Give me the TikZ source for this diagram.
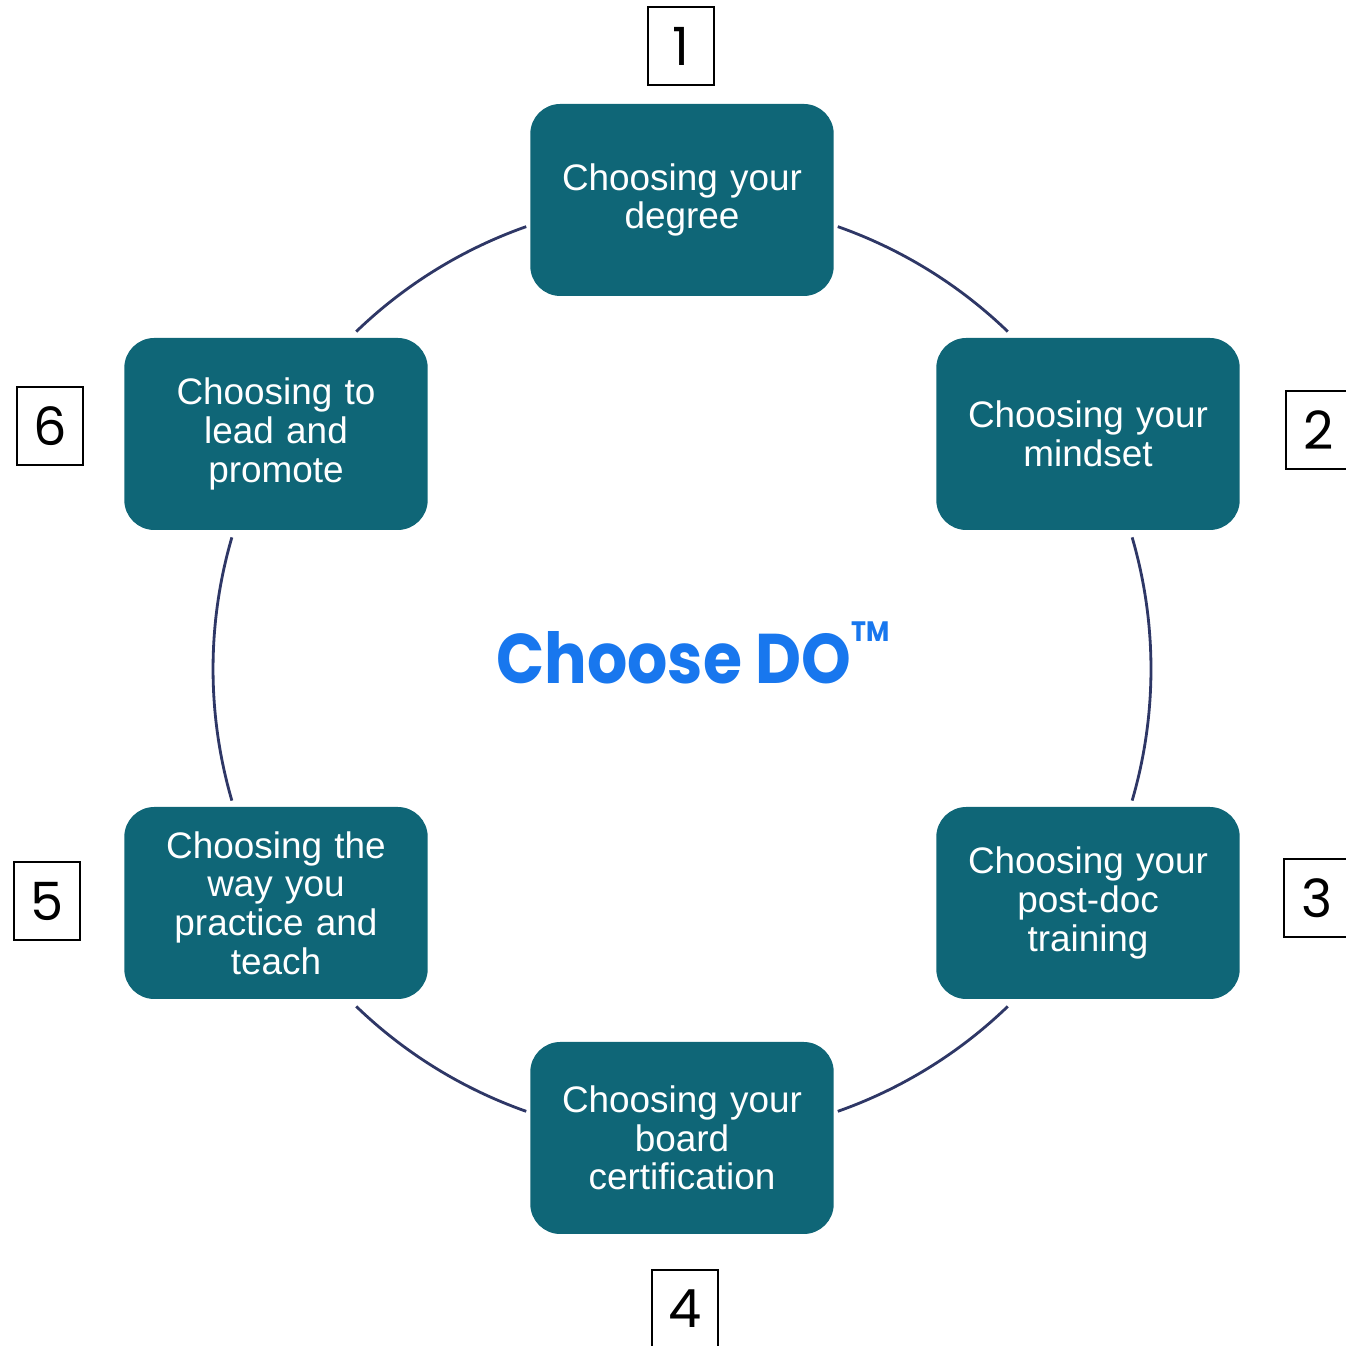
\documentclass[tikz,border=0pt]{standalone}
\usepackage{fontspec}
\setmainfont{Liberation Sans}
\newfontfamily\gothic{Poppins}
\newfontfamily\gothicnarrow[FakeStretch=0.9]{Poppins}
\usetikzlibrary{positioning,calc}

\definecolor{stepteal}{HTML}{0F6677}
\definecolor{ringnavy}{HTML}{2E3766}
\definecolor{titleblue}{HTML}{1877EE}

\begin{document}
\begin{tikzpicture}[
    stage/.style = {rectangle, rounded corners=0.3cm, fill=stepteal, minimum width=3cm, minimum height=1.92cm, text width=2.8cm, align=center, text=white, font=\fontsize{10.5}{11}\selectfont},
    numbox/.style = {rectangle, draw, line width=0.6pt, minimum width=0.66cm, minimum height=0.78cm, inner sep=0pt, font=\gothic\fontsize{15}{18}\selectfont},
    ring/.style = {draw=ringnavy, line width=0.8pt}
]
    \useasboundingbox (0,0) rectangle (13.45,13.46);
    \coordinate (c) at (6.82,6.77);
    % Stages round the cycle
    \node[stage] (degree) at (6.82,11.46) {Choosing your\\degree};
    \node[stage] (mindset) at (10.88,9.12) {Choosing your\\mindset};
    \node[stage] (postdoc) at (10.88,4.43) {Choosing your\\post-doc\\training};
    \node[stage] (board) at (6.82,2.08) {Choosing your\\board\\certification};
    \node[stage] (practice) at (2.76,4.43) {Choosing the\\way you\\practice and\\teach};
    \node[stage] (lead) at (2.76,9.12) {Choosing to\\lead and\\promote};
    % Numbers
    \node[numbox] (n1) at (6.81,13.00) {1};
    \node[numbox] (n2) at (13.19,9.16) {2};
    \node[numbox] (n3) at (13.17,4.48) {3};
    \node[numbox] (n4) at (6.85,0.37) {4};
    \node[numbox] (n5) at (0.47,4.45) {5};
    \node[numbox] (n6) at (0.50,9.20) {6};
    % Title
    \node[font=\gothicnarrow\bfseries\fontsize{20}{24}\selectfont, text=titleblue] (title) at (6.93,6.93) {Choose DO\raisebox{0.6em}{\fontsize{8}{10}\selectfont TM}};
    % Ring
    \draw[ring] (c) ++(70.6:4.69) arc[start angle=70.6, end angle=46, radius=4.69];
    \draw[ring] (c) ++(16.3:4.69) arc[start angle=16.3, end angle=-16.3, radius=4.69];
    \draw[ring] (c) ++(-46:4.69) arc[start angle=-46, end angle=-70.6, radius=4.69];
    \draw[ring] (c) ++(-109.4:4.69) arc[start angle=-109.4, end angle=-134, radius=4.69];
    \draw[ring] (c) ++(196.3:4.69) arc[start angle=196.3, end angle=163.7, radius=4.69];
    \draw[ring] (c) ++(134:4.69) arc[start angle=134, end angle=109.4, radius=4.69];
\end{tikzpicture}
\end{document}
